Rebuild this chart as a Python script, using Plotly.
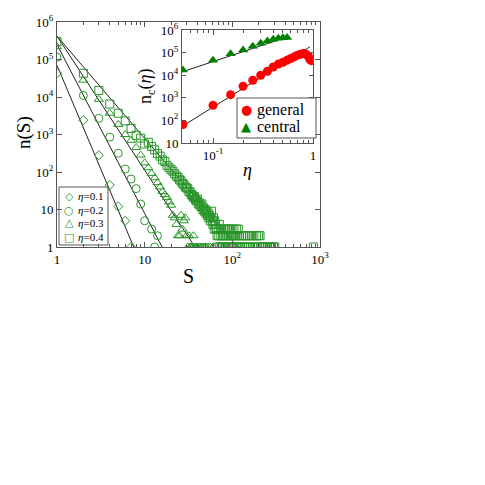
import plotly.graph_objects as go

# ---------------- main panel data: n(S) ----------------
S_01 = [1, 2, 3, 4, 5, 6, 7]
n_01 = [4.3e4, 2400, 280, 45, 12, 5, 1]

S_02 = [1, 2, 3, 4, 5, 6, 7, 8, 9, 10, 12, 13, 14]
n_02 = [1.15e5, 1.1e4, 2700, 850, 316, 120, 65, 36, 14, 5, 3, 1, 2]

S_03 = [1, 2, 3, 4, 5, 6, 7, 8, 9, 10, 11, 12, 13, 14, 15, 16, 17, 18, 19, 20,
        21, 22, 23, 24, 25, 26, 27, 28, 29, 30, 31, 32, 33, 34, 35, 36, 37, 38,
        39, 40, 42, 44, 46, 48, 50, 53, 56, 60]
n_03 = [2.2e5, 2.8e4, 8700, 3700, 1860, 1000, 700, 450, 283, 175, 130, 92, 70,
        52, 40, 30, 25, 21, 16, 13,
        7, 6, 4, 2, 2, 7, 3, 5, 6, 2, 1, 2, 1, 1, 1, 2, 1, 1,
        1, 1, 1, 1, 1, 1, 1, 1, 1, 1]

S_04 = [1, 2, 3, 4, 5, 6, 7, 8, 9, 10,
        11, 12, 13, 14, 15, 16, 17, 18, 19, 20,
        21, 22, 23, 24, 25, 26, 27, 28, 29, 30,
        31, 32, 33, 34, 35, 36, 37, 38, 39, 40,
        41, 42, 43, 44, 45, 46, 47, 48, 49, 50,
        51, 52, 53, 54, 55, 56, 57, 58, 59, 60,
        61, 62, 63, 64, 65, 66, 67, 68, 69, 70,
        71, 72, 73, 74, 75, 76, 77, 78, 79, 80,
        82, 83, 84, 85, 87, 88, 90, 91, 93, 94,
        96, 97, 99, 100, 102, 104, 105, 107, 109, 111,
        113, 115, 117, 119, 121, 124, 127, 130, 133, 137,
        140, 144, 148, 152, 157, 161, 166, 171, 176, 182,
        188, 194, 200, 207, 213, 222, 231, 240, 252, 265,
        280, 295, 305, 840]
n_04 = [3e5, 4.3e4, 1.5e4, 6500, 3700, 2300, 1450, 950, 800, 560,
        620, 480, 390, 310, 265, 210, 190, 150, 130, 115,
        105, 90, 78, 72, 62, 58, 50, 46, 40, 38,
        36, 30, 29, 25, 24, 21, 22, 18, 17, 19,
        14, 15, 13, 12, 14, 10, 11, 9, 10, 8,
        9, 7, 8, 6, 7, 5, 6, 9, 5, 4,
        6, 3, 5, 4, 3, 3, 2, 1, 3, 2,
        4, 1, 3, 2, 1, 3, 2, 1, 2, 3,
        1, 2, 3, 1, 2, 3, 1, 2, 3, 1,
        2, 1, 3, 2, 1, 3, 2, 1, 2, 3,
        1, 2, 3, 1, 2, 1, 2, 1, 2, 1,
        2, 1, 2, 1, 2, 1, 2, 1, 2, 1,
        2, 1, 2, 2, 1, 1, 1, 1, 1, 1,
        1, 1, 1, 1]

# power-law fit lines (endpoints)
fit_S_01 = [1, 7.5];   fit_n_01 = [7e4, 1]
fit_S_02 = [1, 15.8];  fit_n_02 = [2.5e5, 1]
fit_S_03 = [1, 37.5];  fit_n_03 = [4.2e5, 1]
fit_S_04 = [1, 115];   fit_n_04 = [4.2e5, 1]

labels_main = ["<i>η</i>=0.1", "<i>η</i>=0.2", "<i>η</i>=0.3", "<i>η</i>=0.4"]
glyphs_main = ["◇", "○", "△", "□"]

# ---------------- inset data: n_c(eta) ----------------
eta_general = [0.05, 0.1, 0.15, 0.2, 0.25, 0.3, 0.35, 0.4, 0.45, 0.5,
               0.55, 0.6, 0.65, 0.7, 0.75, 0.8, 0.85, 0.9, 0.93, 0.96]
n_general = [66, 464, 1380, 3240, 6000, 1.0e4, 1.5e4, 2.3e4, 3.1e4, 3.7e4,
             4.6e4, 5.5e4, 6.5e4, 7.7e4, 8.5e4, 9.1e4, 8.5e4, 6.9e4, 5.0e4, 4.4e4]

eta_central = [0.05, 0.1, 0.15, 0.2, 0.25, 0.3, 0.35, 0.4, 0.45, 0.5, 0.55]
n_central = [1.7e4, 4.6e4, 9.0e4, 1.3e5, 1.9e5, 2.6e5, 3.3e5, 3.9e5, 4.3e5, 4.5e5, 4.7e5]

fit_eta_general = [0.049, 0.93]; fit_n_general = [54, 1.8e5]
fit_eta_central = [0.049, 0.56]; fit_n_central = [1.4e4, 5.0e5]

labels_inset = ["general", "central"]

# ---------------- styling ----------------
FONT = "Liberation Serif"
GREEN_OPEN = "rgb(40,150,40)"
GREEN_FILL = "rgb(0,128,0)"
RED = "rgb(255,0,0)"
AXC = "#555555"

fig = go.Figure()

symbols = ["diamond-open", "circle-open", "triangle-up-open", "square-open"]
sizes = [7, 8, 8, 8]
data_sets = [(S_01, n_01), (S_02, n_02), (S_03, n_03), (S_04, n_04)]
fits = [(fit_S_01, fit_n_01), (fit_S_02, fit_n_02), (fit_S_03, fit_n_03), (fit_S_04, fit_n_04)]

for (fx, fy) in fits:
    fig.add_trace(go.Scatter(x=fx, y=fy, mode="lines", line=dict(color="#222222", width=1),
                             showlegend=False, xaxis="x", yaxis="y", hoverinfo="skip"))

for (sx, sy), sym, sz, lab in zip(data_sets, symbols, sizes, labels_main):
    fig.add_trace(go.Scatter(x=sx, y=sy, mode="markers", name=lab, showlegend=False,
                             marker=dict(symbol=sym, size=sz, color=GREEN_OPEN,
                                         line=dict(width=1, color=GREEN_OPEN)),
                             xaxis="x", yaxis="y"))

# inset
fig.add_trace(go.Scatter(x=fit_eta_general, y=fit_n_general, mode="lines",
                         line=dict(color="#222222", width=1), showlegend=False,
                         xaxis="x2", yaxis="y2"))
fig.add_trace(go.Scatter(x=fit_eta_central, y=fit_n_central, mode="lines",
                         line=dict(color="#222222", width=1), showlegend=False,
                         xaxis="x2", yaxis="y2"))
fig.add_trace(go.Scatter(x=eta_general, y=n_general, mode="markers", name=labels_inset[0],
                         marker=dict(symbol="circle", size=9, color=RED), showlegend=False,
                         xaxis="x2", yaxis="y2"))
fig.add_trace(go.Scatter(x=eta_central, y=n_central, mode="markers", name=labels_inset[1],
                         marker=dict(symbol="triangle-up", size=9, color=GREEN_FILL), showlegend=False,
                         xaxis="x2", yaxis="y2"))

W = 485.0

def px_x(p):
    return p / W

def px_y(p):
    return 1 - p / W

main_yvals = [1, 10, 100, 1e3, 1e4, 1e5, 1e6]
main_ytext = ["1", "10", "10<sup>2</sup>", "10<sup>3</sup>", "10<sup>4</sup>", "10<sup>5</sup>", "10<sup>6</sup>"]
main_xvals = [1, 10, 100, 1000]
main_xtext = ["1", "10", "10<sup>2</sup>", "10<sup>3</sup>"]
minor_main_x = [2, 3, 4, 5, 6, 7, 8, 9, 20, 30, 40, 50, 60, 70, 80, 90,
                200, 300, 400, 500, 600, 700, 800, 900]
inset_yvals = [10, 100, 1e3, 1e4, 1e5, 1e6]
inset_ytext = ["10", "10<sup>2</sup>", "10<sup>3</sup>", "10<sup>4</sup>", "10<sup>5</sup>", "10<sup>6</sup>"]
inset_xvals = [0.1, 1]
inset_xtext = ["10<sup>-1</sup>", "1"]
minor_inset_x = [0.06, 0.07, 0.08, 0.09, 0.2, 0.3, 0.4, 0.5, 0.6, 0.7, 0.8, 0.9]

common = dict(showline=True, linecolor=AXC, linewidth=1, mirror="ticks", ticks="inside",
              tickcolor=AXC, showgrid=False, zeroline=False, type="log", automargin=False)

def ann(text, x, y, size, family=FONT, color="black", angle=0, xanchor="center"):
    return dict(text=text, x=px_x(x), y=px_y(y), xref="paper", yref="paper",
                showarrow=False, textangle=angle, xanchor=xanchor, yanchor="middle",
                font=dict(size=size, family=family, color=color))

annotations = [
    ann("n(S)", 24, 133, 19, angle=-90),
    ann("S", 188, 276, 20),
    ann("n<sub>c</sub>(<i>η</i>)", 146, 86, 18, angle=-90),
    ann("<i>η</i>", 248, 170, 18),
]

# main legend (drawn as text)
leg_rows = [196, 210, 223, 237]
for g, lab, yy in zip(glyphs_main, labels_main, leg_rows):
    annotations.append(ann(g, 69, yy, 11, family="DejaVu Sans", color=GREEN_OPEN))
    annotations.append(ann(lab, 76, yy, 11, xanchor="left"))

# inset legend (drawn as text)
inset_glyphs = ["●", "▲"]
inset_colors = [RED, GREEN_FILL]
inset_rows = [110, 127]
for g, c, lab, yy in zip(inset_glyphs, inset_colors, labels_inset, inset_rows):
    annotations.append(ann(g, 246, yy, 13, family="DejaVu Sans", color=c))
    annotations.append(ann(lab, 255, yy, 16, xanchor="left"))

shapes = [
    dict(type="rect", xref="paper", yref="paper", x0=px_x(59), x1=px_x(108),
         y0=px_y(245), y1=px_y(187), line=dict(color=AXC, width=1), fillcolor="white", layer="below"),
    dict(type="rect", xref="paper", yref="paper", x0=px_x(237), x1=px_x(316),
         y0=px_y(138), y1=px_y(98), line=dict(color=AXC, width=1), fillcolor="white", layer="above"),
]

fig.update_layout(
    width=485, height=485, margin=dict(l=0, r=0, t=0, b=0, autoexpand=False),
    paper_bgcolor="white", plot_bgcolor="white", template="none",
    font=dict(family=FONT, color="black", size=13),
    showlegend=False,
    xaxis=dict(**common, domain=[px_x(57), px_x(320)], range=[0, 3], anchor="y",
               tickvals=main_xvals, ticktext=main_xtext, ticklen=5,
               tickfont=dict(size=13, family=FONT),
               minor=dict(tickvals=minor_main_x, ticks="inside", ticklen=3, tickcolor=AXC, showgrid=False)),
    yaxis=dict(**common, domain=[px_y(247), px_y(22)], range=[0, 6], anchor="x",
               tickvals=main_yvals, ticktext=main_ytext, ticklen=5,
               tickfont=dict(size=13, family=FONT)),
    xaxis2=dict(**common, domain=[px_x(182), px_x(313)], range=[-1.31, 0], anchor="y2",
                tickvals=inset_xvals, ticktext=inset_xtext, ticklen=5,
                tickfont=dict(size=13, family=FONT),
                minor=dict(tickvals=minor_inset_x, ticks="inside", ticklen=3, tickcolor=AXC, showgrid=False)),
    yaxis2=dict(**common, domain=[px_y(143), px_y(30)], range=[1, 6], anchor="x2",
                tickvals=inset_yvals, ticktext=inset_ytext, ticklen=4,
                tickfont=dict(size=13, family=FONT)),
    annotations=annotations,
    shapes=shapes,
)

fig.write_html("out.html", config={"displayModeBar": False},
               post_script="document.body.style.margin='0px';")
